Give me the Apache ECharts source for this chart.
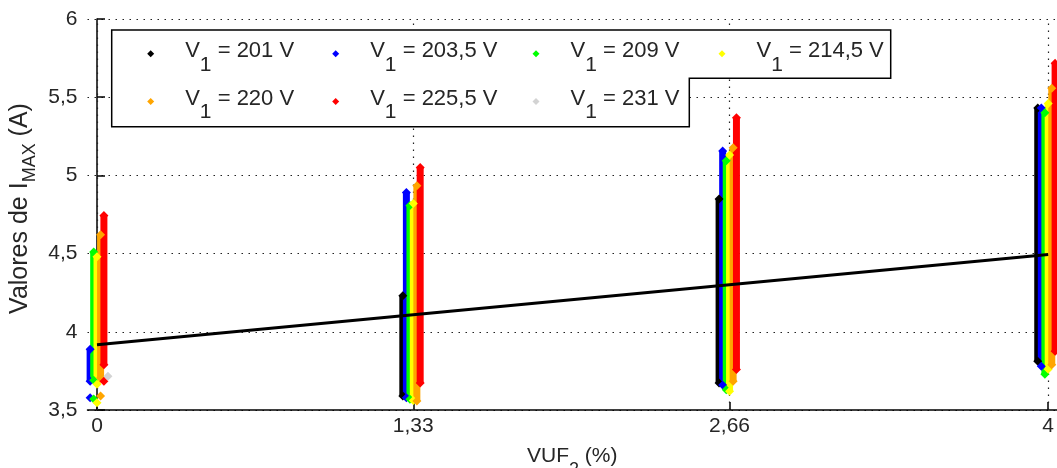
<!DOCTYPE html>
<html><head><meta charset="utf-8">
<script src="https://cdn.jsdelivr.net/npm/echarts@6/dist/echarts.min.js"></script>
<style>html,body{margin:0;padding:0;background:#fff}#c{width:1057px;height:468px}</style>
</head><body><div id="c"></div>
<script>
// ---- data ----
const groupX = [0, 1.33, 2.66, 4];
const xTickValues = [0, 1.33, 2.66, 4];
const xTickLabels = ['0', '1,33', '2,66', '4'];
const seriesNames = ['V1 = 201 V', 'V1 = 203,5 V', 'V1 = 209 V', 'V1 = 214,5 V', 'V1 = 220 V', 'V1 = 225,5 V', 'V1 = 231 V'];
const seriesColors = ['#000000', '#0000ff', '#00ff00', '#ffff00', '#ffa500', '#ff0000', '#d3d3d3'];
// small x jitter of each voltage inside a VUF group (data units)
const seriesShift = [-0.044, -0.029, -0.014, 0.0, 0.015, 0.029, 0.046];
// lowest / highest IMAX per group (VUF = 0, 1.33, 2.66, 4)
const lowVals = [
  [null, 3.59, 3.673, 3.811],
  [3.684, 3.578, 3.66, 3.78],
  [3.69, 3.568, 3.63, 3.728],
  [3.665, 3.56, 3.62, 3.76],
  [3.705, 3.557, 3.684, 3.79],
  [3.79, 3.673, 3.759, 3.875],
  [null, null, null, null]
];
const highVals = [
  [null, 4.23, 4.849, 5.431],
  [3.888, 4.89, 5.156, 5.431],
  [4.51, 4.807, 5.093, 5.40],
  [4.48, 4.82, 5.13, 5.46],
  [4.62, 4.934, 5.177, 5.558],
  [4.743, 5.05, 5.368, 5.717],
  [null, null, null, null]
];
// isolated points at VUF = 0
const zeroDots = [3.61, 3.578, 3.57, 3.546, 3.59, 3.684, 3.716];
// fitted trend line
const fitX = [0, 4];
const fitY = [3.917, 4.495];

// ---- chart ----
const FONT = '"Liberation Sans", Arial, Helvetica, sans-serif';
const TXT = '#262626';

function buildSeriesData(i) {
  const d = [];
  groupX.forEach((gx, g) => {
    const lo = lowVals[i][g], hi = highVals[i][g];
    const x = gx + seriesShift[i];
    if (lo != null && hi != null) d.push([x, lo], [x, hi], [x, '-']);
  });
  if (zeroDots[i] != null) d.push([seriesShift[i], zeroDots[i]], [seriesShift[i], '-']);
  return d;
}

const series = [{
  type: 'line', data: [], z: 1, silent: true,
  markLine: {
    z: 1, silent: true, symbol: ['none', 'none'], label: { show: false }, animation: false,
    lineStyle: { color: '#222', type: [1.5, 5.5], width: 1.2 },
    emphasis: { disabled: true },
    data: xTickValues.map(v => ({ xAxis: v }))
  }
}];
seriesNames.forEach((n, i) => {
  series.push({
    type: 'line', name: n, data: buildSeriesData(i), z: 2,
    symbol: 'diamond', symbolSize: 9, showSymbol: true, showAllSymbol: true,
    connectNulls: false, silent: true,
    lineStyle: { width: 7, color: seriesColors[i] },
    itemStyle: { color: seriesColors[i] },
    emphasis: { disabled: true }
  });
});
series.push({
  type: 'line', name: 'fit', data: fitX.map((x, k) => [x, fitY[k]]), z: 3,
  symbol: 'none', silent: true, lineStyle: { width: 3, color: '#000' },
  emphasis: { disabled: true }
});

const colMarkerX = [150.7, 335.7, 536, 722];
const rowMarkerY = [53.3, 101];
const legends = seriesNames.map((n, i) => {
  const col = i % 4, row = Math.floor(i / 4);
  return {
    data: [n], selectedMode: false, icon: 'diamond', itemWidth: 7, itemHeight: 7,
    padding: 0, left: colMarkerX[col] - 3.5, top: rowMarkerY[row] - 27,
    formatter: s => s.replace('V1', 'V{s|1}'),
    textStyle: {
      fontFamily: FONT, fontSize: 22, color: TXT, lineHeight: 24, padding: [0, 0, 6, 26],
      rich: { s: { fontFamily: FONT, fontSize: 21, color: TXT, lineHeight: 24, padding: [28, 0, 0, 0] } }
    }
  };
});

const chart = echarts.init(document.getElementById('c'), null, { renderer: 'canvas' });
chart.setOption({
  animation: false,
  backgroundColor: '#fff',
  grid: { left: 87.5, right: 0, top: 19, bottom: 58, containLabel: false, outerBoundsMode: 'none' },
  legend: legends,
  graphic: [{
    type: 'polygon', z: 3, silent: true,
    shape: { points: [[111.7, 30], [890.7, 30], [890.7, 78.3], [689.3, 78.3], [689.3, 126.7], [111.7, 126.7]] },
    style: { fill: '#fff', stroke: '#000', lineWidth: 1.5 }
  }],
  xAxis: {
    type: 'value', min: -0.04, max: 4.037,
    axisLine: { lineStyle: { color: '#000', width: 1.5 } },
    axisTick: { show: true, inside: true, length: 8, customValues: xTickValues, lineStyle: { color: '#000', width: 1.5 } },
    axisLabel: {
      customValues: xTickValues, margin: 6, fontFamily: FONT, fontSize: 21, color: TXT,
      formatter: v => { const k = xTickValues.findIndex(t => Math.abs(t - v) < 1e-6); return k >= 0 ? xTickLabels[k] : ''; }
    },
    splitLine: { show: false },
    name: 'VUF{s|2} (%)', nameLocation: 'middle', nameGap: 34, nameMoveOverlap: false,
    nameTextStyle: {
      fontFamily: FONT, fontSize: 21, color: TXT, lineHeight: 24,
      rich: { s: { fontFamily: FONT, fontSize: 18, color: TXT, lineHeight: 24, padding: [28, 0, 0, 0] } }
    }
  },
  yAxis: {
    type: 'value', min: 3.5, max: 6, interval: 0.5,
    axisLine: { show: true, lineStyle: { color: '#000', width: 1.5 } },
    axisTick: { show: true, inside: true, length: 8, lineStyle: { color: '#000', width: 1.5 } },
    axisLabel: { margin: 10, fontFamily: FONT, fontSize: 21, color: TXT, formatter: v => String(v).replace('.', ',') },
    splitLine: { show: true, lineStyle: { color: '#222', type: [1.5, 5.5], width: 1.2 } },
    name: 'Valores de I{s|MAX} (A)', nameLocation: 'middle', nameRotate: 90, nameGap: 53, nameMoveOverlap: false,
    nameTextStyle: {
      fontFamily: FONT, fontSize: 25, color: TXT, lineHeight: 28, padding: [0, 0, 0, 12],
      rich: { s: { fontFamily: FONT, fontSize: 18, color: TXT, lineHeight: 28, padding: [20, 0, 0, 0] } }
    }
  },
  series: series
});
</script>
</body></html>
